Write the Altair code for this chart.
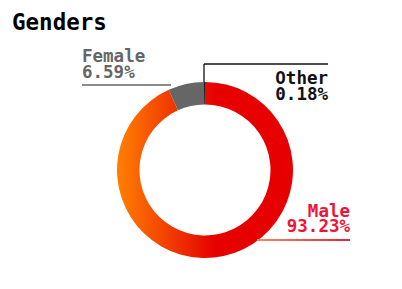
import altair as alt
import pandas as pd

# ---- data ----
genders = ["Male", "Female", "Other"]
shares = [93.23, 6.59, 0.18]
title_text = "Genders"

# ---- styles / layout (not data) ----
FONT = "DejaVu Sans Mono"
text_colors = ["#ee1439", "#666666", "#111111"]
slice_colors = ["#e60000", "#666666", "#111111"]
male_gradient = {
    "gradient": "linear", "x1": 0, "y1": 0, "x2": 1, "y2": 0,
    "stops": [
        {"offset": 0.0, "color": "#ff8000"},
        {"offset": 0.56, "color": "#e60000"},
        {"offset": 1.0, "color": "#e60000"},
    ],
}
line_gradient = {
    "gradient": "linear", "x1": 0, "y1": 0, "x2": 1, "y2": 0,
    "stops": [
        {"offset": 0.0, "color": "#f58a60"},
        {"offset": 1.0, "color": "#e8203c"},
    ],
}
CX, CY, R_OUT, R_IN = 205, 170, 88, 65.5
label_pos = {"Male": (350, 216.5, "right"), "Female": (82, 62, "left"), "Other": (328, 84, "right")}

df = pd.DataFrame({"gender": genders, "share": shares, "idx": list(range(len(genders)))})
df["label"] = [f"{g}\n{s:.2f}%" for g, s in zip(genders, shares)]
df["lx"] = [label_pos[g][0] for g in genders]
df["ly"] = [label_pos[g][1] for g in genders]

W, H = 402, 289

donut = alt.Chart(df).mark_arc(radius=R_OUT, radius2=R_IN).encode(
    theta=alt.Theta("share:Q", stack=True, scale=alt.Scale(domain=[0, 100])),
    order=alt.Order("idx:Q"),
    x=alt.value(CX),
    y=alt.value(CY),
    fill=alt.condition(
        "datum.gender === 'Male'",
        alt.value(male_gradient),
        alt.Color("gender:N", scale=alt.Scale(domain=genders, range=slice_colors), legend=None),
    ),
)

color_scale = alt.Scale(domain=genders, range=text_colors)

def labels(align):
    sub = [g for g in genders if label_pos[g][2] == align]
    return alt.Chart(df).transform_filter(
        alt.FieldOneOfPredicate(field="gender", oneOf=sub)
    ).mark_text(
        font=FONT, fontWeight="bold", fontSize=17.5, align=align,
        baseline="alphabetic", lineBreak="\n", lineHeight=15.5,
    ).encode(
        x=alt.X("lx:Q", scale=None, axis=None),
        y=alt.Y("ly:Q", scale=None, axis=None),
        text="label:N",
        color=alt.Color("gender:N", scale=color_scale, legend=None),
    )

# leader lines (annotation geometry)
lead = pd.DataFrame({
    "gender": ["Female", "Other", "Other"],
    "x": [82, 204, 204], "x2": [171, 204, 328],
    "y": [85, 64, 64], "y2": [85, 82, 64],
})
leaders = alt.Chart(lead).mark_rule(strokeWidth=1.3).encode(
    x=alt.X("x:Q", scale=None, axis=None), x2="x2:Q",
    y=alt.Y("y:Q", scale=None, axis=None), y2="y2:Q",
    color=alt.Color("gender:N", scale=alt.Scale(domain=genders, range=["#666666", "#666666", "#111111"]), legend=None),
)
male_line = alt.Chart(pd.DataFrame({"x": [257], "x2": [350], "y": [239], "y2": [241]})).mark_rect(
    fill=line_gradient
).encode(
    x=alt.X("x:Q", scale=None, axis=None), x2="x2:Q",
    y=alt.Y("y:Q", scale=None, axis=None), y2="y2:Q",
)

title = alt.Chart(pd.DataFrame({"t": [title_text]})).mark_text(
    font=FONT, fontWeight="bold", fontSize=22.5, align="left", baseline="alphabetic", color="#000000"
).encode(x=alt.value(12), y=alt.value(30), text="t:N")

chart = alt.layer(donut, leaders, male_line, labels("left"), labels("right"), title).properties(
    width=W, height=H, padding=0, autosize=alt.AutoSizeParams(type="none"), background="white"
).configure_view(stroke=None).resolve_scale(color="independent")

chart.save("out.html", embed_options={"renderer": "svg", "actions": False})
